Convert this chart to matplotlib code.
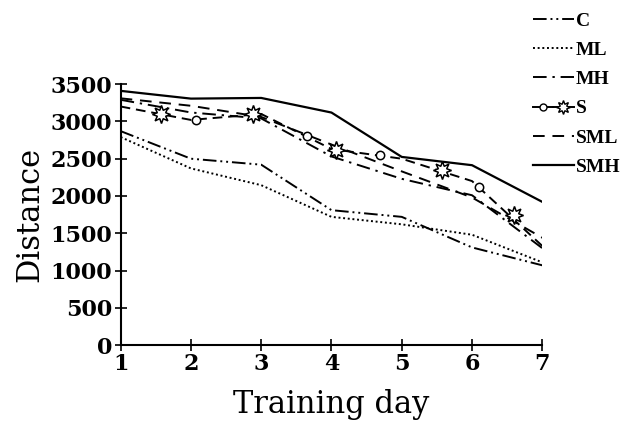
import numpy as np
import matplotlib
matplotlib.use("Agg")
import matplotlib.pyplot as plt
from matplotlib.lines import Line2D
from matplotlib.legend_handler import HandlerTuple

# data
days = [1, 2, 3, 4, 5, 6, 7]
c_vals = [2870, 2500, 2420, 1810, 1720, 1310, 1070]
ml_vals = [2790, 2370, 2145, 1720, 1620, 1480, 1110]
mh_vals = [3290, 3120, 3040, 2530, 2230, 2010, 1300]
s_vals = [3200, 3020, 3100, 2630, 2500, 2200, 1330]
sml_vals = [3310, 3210, 3060, 2690, 2330, 1980, 1440]
smh_vals = [3410, 3306, 3315, 3119, 2524, 2413, 1921]

# symbols drawn along the S curve
s_star_days = [1.58, 2.89, 4.06, 5.57, 6.6]
s_star_vals = [3106, 3106, 2614, 2346, 1743]
s_circle_days = [2.07, 3.65, 4.69, 6.1]
s_circle_vals = [3016, 2802, 2547, 2114]

y_ticks = [0, 500, 1000, 1500, 2000, 2500, 3000, 3500]

SERIF = "DejaVu Serif"
LW = 1.4

styles = {
    "C": (0, (7, 2, 1, 2, 1, 2)),
    "ML": (0, (1, 1.4)),
    "MH": (0, (7, 3, 1.2, 3)),
    "SML": (0, (6, 4)),
    "S": (0, (5, 3)),
    "SMH": "-",
}


def main():
    fig = plt.figure(figsize=(6.35, 4.25), dpi=100)
    ax = fig.add_axes([0.190, 0.188, 0.664, 0.614])

    ax.plot(days, c_vals, color="black", lw=LW, ls=styles["C"])
    ax.plot(days, ml_vals, color="black", lw=LW, ls=styles["ML"])
    ax.plot(days, mh_vals, color="black", lw=LW, ls=styles["MH"])
    ax.plot(days, s_vals, color="black", lw=LW, ls=styles["S"])
    ax.plot(days, sml_vals, color="black", lw=LW, ls=styles["SML"])
    ax.plot(days, smh_vals, color="black", lw=1.6, ls=styles["SMH"])

    star = (8, 1, 0)
    ax.plot(s_star_days, s_star_vals, ls="none", marker=star, ms=13,
            mfc="white", mec="black", mew=1.1, zorder=5)
    ax.plot(s_circle_days, s_circle_vals, ls="none", marker="o", ms=6,
            mfc="white", mec="black", mew=1.1, zorder=5)

    ax.set_xlim(1, 7)
    ax.set_ylim(0, 3500)
    ax.set_xticks(days)
    ax.set_yticks(y_ticks)
    for side in ("top", "right"):
        ax.spines[side].set_visible(False)
    for side in ("left", "bottom"):
        ax.spines[side].set_linewidth(1.5)
    ax.tick_params(direction="inout", length=8, width=1.2, pad=2,
                   labelsize=16)
    for lab in ax.get_xticklabels() + ax.get_yticklabels():
        lab.set_family(SERIF)
        lab.set_weight("bold")

    ax.set_xlabel("Training day", family=SERIF, fontsize=22, labelpad=10)
    ax.set_ylabel("Distance", family=SERIF, fontsize=22, labelpad=4)

    # legend
    h_c = Line2D([], [], color="black", lw=LW, ls=styles["C"])
    h_ml = Line2D([], [], color="black", lw=LW, ls=styles["ML"])
    h_mh = Line2D([], [], color="black", lw=LW, ls=styles["MH"])
    h_s1 = Line2D([], [], color="black", lw=LW, ls="-", marker="o", ms=5,
                  mfc="white", mec="black")
    h_s2 = Line2D([], [], color="black", lw=LW, ls="-", marker=star, ms=10,
                  mfc="white", mec="black")
    h_sml = Line2D([], [], color="black", lw=LW, ls=styles["SML"])
    h_smh = Line2D([], [], color="black", lw=1.6, ls="-")
    fig.legend([h_c, h_ml, h_mh, (h_s1, h_s2), h_sml, h_smh],
               ["C", "ML", "MH", "S", "SML", "SMH"],
               loc="upper left", bbox_to_anchor=(0.839, 0.972),
               frameon=False, handlelength=2.1, handletextpad=0.1,
               labelspacing=0.6, borderaxespad=0, borderpad=0,
               numpoints=1,
               handler_map={tuple: HandlerTuple(ndivide=None, pad=0)},
               prop={"family": "Liberation Serif", "size": 14,
                     "weight": "bold"})

    fig.savefig("out.png", dpi=100)


if __name__ == "__main__":
    main()
